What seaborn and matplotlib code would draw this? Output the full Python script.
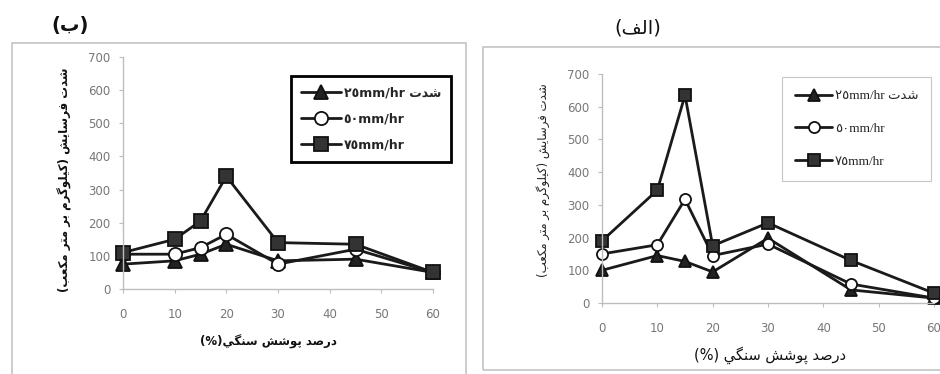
import matplotlib
matplotlib.use("Agg")
import matplotlib.pyplot as plt
import seaborn as sns
import pandas as pd
from matplotlib.patches import Rectangle

# rock cover (%) and erosion values
cover = [0, 10, 15, 20, 30, 45, 60]

# panel (ب) - left
b_25 = [75, 85, 105, 135, 85, 90, 50]
b_50 = [105, 105, 125, 165, 75, 120, 50]
b_75 = [110, 150, 205, 340, 140, 135, 50]

# panel (الف) - right
a_25 = [100, 145, 127, 95, 198, 40, 15]
a_50 = [150, 178, 317, 145, 180, 58, 15]
a_75 = [190, 345, 635, 175, 245, 130, 30]

x_ticks = [0, 10, 20, 30, 40, 50, 60]
y_ticks = [0, 100, 200, 300, 400, 500, 600, 700]

# Persian text: matplotlib does no shaping, so use presentation forms in visual order
FORMS = {
    'ا': ('\uFE8D', '\uFE8E', None, None),
    'ب': ('\uFE8F', '\uFE90', '\uFE91', '\uFE92'),
    'پ': ('\uFB56', '\uFB57', '\uFB58', '\uFB59'),
    'ت': ('\uFE95', '\uFE96', '\uFE97', '\uFE98'),
    'د': ('\uFEA9', '\uFEAA', None, None),
    'ر': ('\uFEAD', '\uFEAE', None, None),
    'س': ('\uFEB1', '\uFEB2', '\uFEB3', '\uFEB4'),
    'ش': ('\uFEB5', '\uFEB6', '\uFEB7', '\uFEB8'),
    'ص': ('\uFEB9', '\uFEBA', '\uFEBB', '\uFEBC'),
    'ع': ('\uFEC9', '\uFECA', '\uFECB', '\uFECC'),
    'ف': ('\uFED1', '\uFED2', '\uFED3', '\uFED4'),
    'ک': ('\uFB8E', '\uFB8F', '\uFB90', '\uFB91'),
    'گ': ('\uFB92', '\uFB93', '\uFB94', '\uFB95'),
    'ل': ('\uFEDD', '\uFEDE', '\uFEDF', '\uFEE0'),
    'م': ('\uFEE1', '\uFEE2', '\uFEE3', '\uFEE4'),
    'ن': ('\uFEE5', '\uFEE6', '\uFEE7', '\uFEE8'),
    'و': ('\uFEED', '\uFEEE', None, None),
    'ی': ('\uFBFC', '\uFBFD', '\uFBFE', '\uFBFF'),
    'ي': ('\uFEF1', '\uFEF2', '\uFEF3', '\uFEF4'),
}


def fa(text):
    out = []
    for i, ch in enumerate(text):
        if ch not in FORMS:
            out.append(ch)
            continue
        prev = text[i - 1] if i > 0 else ''
        nxt = text[i + 1] if i + 1 < len(text) else ''
        join_prev = prev in FORMS and FORMS[prev][2] is not None
        join_next = nxt in FORMS and FORMS[ch][2] is not None
        isol, fin, ini, med = FORMS[ch]
        if join_prev and join_next:
            out.append(med)
        elif join_prev:
            out.append(fin)
        elif join_next:
            out.append(ini)
        else:
            out.append(isol)
    mirror = {'(': ')', ')': '('}
    return ''.join(mirror.get(c, c) for c in reversed(out))


labels = ['\u0662\u0665mm/hr ' + fa('شدت'), '\u0665\u0660mm/hr', '\u0667\u0665mm/hr']
ylab = fa('شدت فرسایش (کیلوگرم بر متر مکعب)')

sns.set_theme(style='white')
plt.rcParams['font.family'] = ['DejaVu Sans']

fig = plt.figure(figsize=(9.4, 3.74), dpi=100)
W, H = 940, 374


def fx(px):
    return px / W


def fy(py):
    return 1 - py / H


# panel frames
fig.patches.append(Rectangle((fx(12), fy(378)), fx(466) - fx(12), fy(43) - fy(378),
                             transform=fig.transFigure, fill=False, ec='#c4c4c4', lw=1.2))
fig.patches.append(Rectangle((fx(483), fy(370)), fx(950) - fx(483), fy(47) - fy(370),
                             transform=fig.transFigure, fill=False, ec='#c4c4c4', lw=1.2))

ax_b = fig.add_axes([fx(123), fy(289), fx(433) - fx(123), fy(57) - fy(289)])
ax_a = fig.add_axes([fx(602), fy(303), fx(934) - fx(602), fy(74) - fy(303)])

panels = [
    (ax_b, [b_25, b_50, b_75], 9.5),
    (ax_a, [a_25, a_50, a_75], 8),
]
styles = [
    dict(marker='^', markerfacecolor='#222222'),
    dict(marker='o', markerfacecolor='white'),
    dict(marker='s', markerfacecolor='#333333'),
]

for ax, series, ms in panels:
    for vals, lab, st in zip(series, labels, styles):
        df = pd.DataFrame({'cover': cover, 'value': vals})
        sns.lineplot(data=df, x='cover', y='value', ax=ax, color='#1a1a1a',
                     linewidth=2.0, markersize=ms, markeredgecolor='#111111',
                     markeredgewidth=1.3, label=lab, clip_on=False, **st)
    ax.set_xlim(0, 60)
    ax.set_ylim(0, 700)
    ax.set_xticks(x_ticks)
    ax.set_yticks(y_ticks)
    ax.set_xlabel('')
    ax.set_ylabel('')
    ax.set_facecolor('none')
    for s in ['top', 'right']:
        ax.spines[s].set_visible(False)
    for s in ['left', 'bottom']:
        ax.spines[s].set_color('#bdbdbd')
        ax.spines[s].set_linewidth(1.0)
    ax.tick_params(axis='both', colors='#bdbdbd', length=3, width=0.8,
                   labelcolor='#777777', labelsize=8.5)
    ax.tick_params(axis='x', pad=11, bottom=True)
    ax.tick_params(axis='y', pad=6, left=True)

# legends
leg_b = ax_b.legend(loc='upper left', bbox_to_anchor=(fx(285), fy(70)),
                    bbox_transform=fig.transFigure, frameon=True, fancybox=False,
                    framealpha=1, handlelength=3.2, labelspacing=1.05,
                    borderpad=0.8, handletextpad=0.2,
                    prop={'weight': 'bold', 'size': 9})
leg_b.get_frame().set_edgecolor('black')
leg_b.get_frame().set_linewidth(2.0)

leg_a = ax_a.legend(loc='upper left', bbox_to_anchor=(fx(782), fy(77)),
                    bbox_transform=fig.transFigure, frameon=True, fancybox=False,
                    framealpha=1, handlelength=2.8, labelspacing=1.55,
                    borderpad=1.0, handletextpad=0.2, borderaxespad=0,
                    prop={'family': ['Liberation Serif', 'DejaVu Sans'], 'size': 9.5})
leg_a.get_frame().set_edgecolor('#c8c8c8')
leg_a.get_frame().set_linewidth(0.8)

# titles and axis labels
fig.text(fx(70), fy(25), fa('(ب)'), ha='center', va='center', fontsize=14,
         fontweight='bold', color='#111111')
fig.text(fx(638), fy(28), fa('(الف)'), ha='center', va='center', fontsize=14,
         color='#111111')

fig.text(fx(65), fy(180), ylab, rotation=90, ha='center', va='center',
         fontsize=8.5, fontweight='bold', color='#111111')
fig.text(fx(543), fy(180), ylab, rotation=90, ha='center', va='center',
         fontsize=8.5, color='#222222')

fig.text(fx(268), fy(342), '(%)' + fa('درصد پوشش سنگي'), ha='center', va='center',
         fontsize=8.5, fontweight='bold', color='#111111')
fig.text(fx(770), fy(355), '(%) ' + fa('درصد پوشش سنگي'), ha='center', va='center',
         fontsize=10.5, color='#111111')

fig.savefig('out.png', dpi=100)
